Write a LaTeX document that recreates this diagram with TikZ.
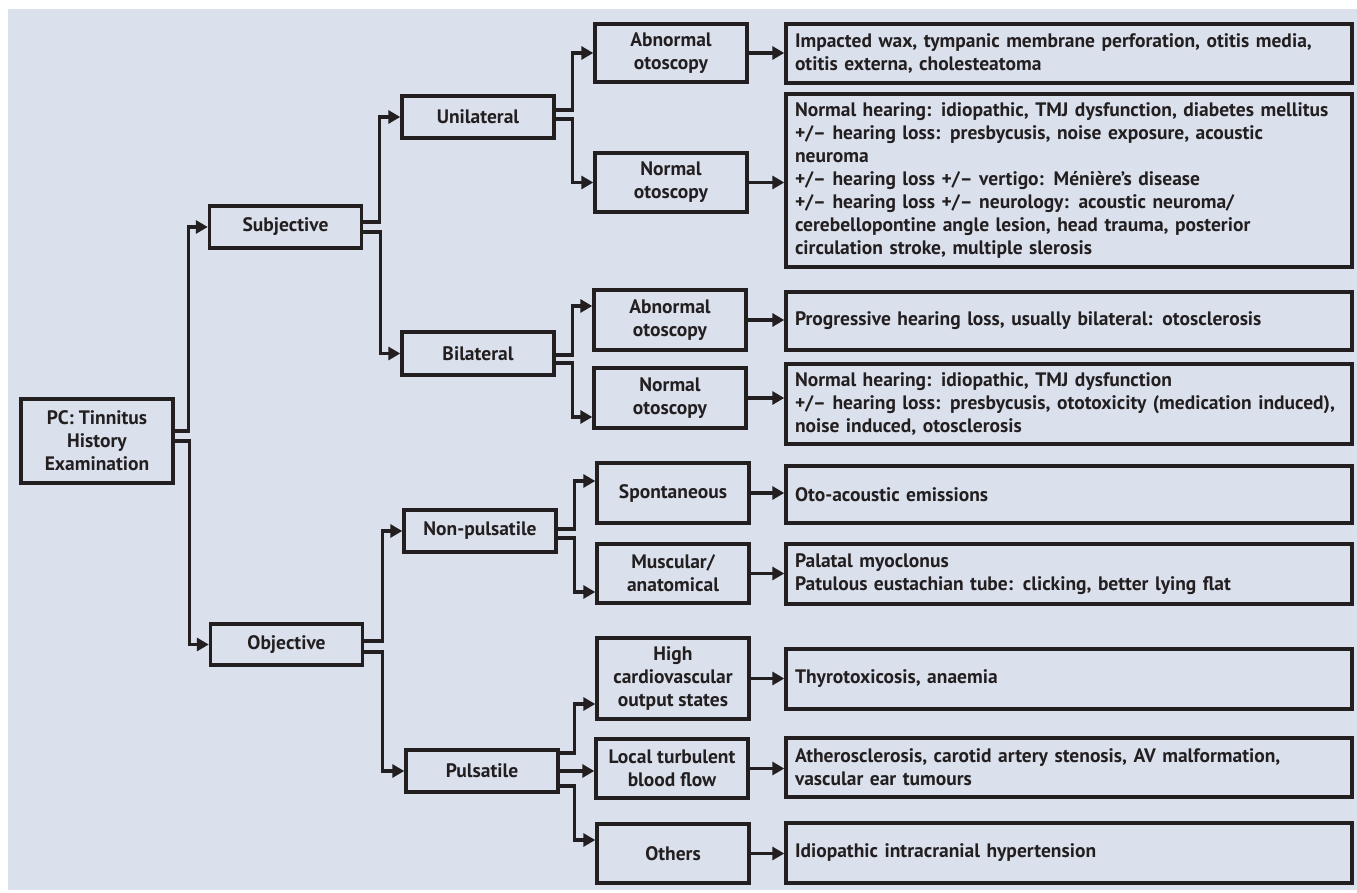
\documentclass[tikz,border=0pt]{standalone}
\usepackage{fontspec}
\setmainfont{PT Sans}
\usepackage{tikz}
\usetikzlibrary{arrows.meta, positioning}
\definecolor{bgblue}{RGB}{218,224,236}
\definecolor{inkdark}{RGB}{35,31,32}

\begin{document}
\begin{tikzpicture}[
        x=1pt, y=-1pt,
        >={Triangle[length=12pt, width=13pt]},
        box/.style={draw=inkdark, line width=3.4pt, text=inkdark, inner sep=0pt,
            font=\fontsize{19.5}{23}\selectfont\bfseries},
        catbox/.style={box, align=center, minimum width=152pt},
        resbox/.style={box, align=left, text width=548pt, inner xsep=9pt},
        flow/.style={->, draw=inkdark, line width=3.4pt}
    ]
        \useasboundingbox (0,0) rectangle (1357,893);
        \fill[bgblue] (8,9) rectangle (1357,890);

        \node[catbox, minimum height=84pt] (root) at (97,441) {PC: Tinnitus\\History\\Examination};

        \node[catbox, minimum height=42pt] (subjective) at (285.5,227) {Subjective};
        \node[catbox, minimum height=41pt] (objective) at (286.5,644.5) {Objective};

        \node[catbox, minimum height=42pt] (unilateral) at (478,117) {Unilateral};
        \node[catbox, minimum height=43pt] (bilateral) at (478,353.5) {Bilateral};
        \node[catbox, minimum height=42pt] (nonpulsatile) at (480,531) {Non-pulsatile};
        \node[catbox, minimum height=42pt] (pulsatile) at (482,771) {Pulsatile};

        \node[catbox, minimum height=58pt] (uniabnormal) at (671,53) {Abnormal\\otoscopy};
        \node[catbox, minimum height=59pt] (uninormal) at (671,182.5) {Normal\\otoscopy};
        \node[catbox, minimum height=60pt] (biabnormal) at (670,320) {Abnormal\\otoscopy};
        \node[catbox, minimum height=60pt] (binormal) at (670,398) {Normal\\otoscopy};
        \node[catbox, minimum height=60pt] (spontaneous) at (673,493) {Spontaneous};
        \node[catbox, minimum height=59pt] (muscular) at (673,573.5) {Muscular/\\anatomical};
        \node[catbox, minimum height=81pt] (cardiac) at (673,678.5) {High\\cardiovascular\\output states};
        \node[catbox, minimum height=59pt] (turbulent) at (672,768.5) {Local turbulent\\blood flow};
        \node[catbox, minimum height=59pt] (others) at (673,853.5) {Others};

        \node[resbox, minimum height=59pt] (waxcauses) at (1069,53.5) {
            Impacted wax, tympanic membrane perforation, otitis media,\\
            otitis externa, cholesteatoma};
        \node[resbox, minimum height=173pt] (unicauses) at (1069,180.5) {
            Normal hearing: idiopathic, TMJ dysfunction, diabetes mellitus\\
            +/– hearing loss: presbycusis, noise exposure, acoustic\\
            neuroma\\
            +/– hearing loss +/– vertigo: Ménière's disease\\
            +/– hearing loss +/– neurology: acoustic neuroma/\\
            cerebellopontine angle lesion, head trauma, posterior\\
            circulation stroke, multiple slerosis};
        \node[resbox, minimum height=58pt] (sclerosis) at (1069,321) {
            Progressive hearing loss, usually bilateral: otosclerosis};
        \node[resbox, minimum height=80pt] (bicauses) at (1069,404) {
            Normal hearing: idiopathic, TMJ dysfunction\\
            +/– hearing loss: presbycusis, ototoxicity (medication induced),\\
            noise induced, otosclerosis};
        \node[resbox, minimum height=57pt] (emissions) at (1069,494.5) {
            Oto-acoustic emissions};
        \node[resbox, minimum height=60pt] (myoclonus) at (1069,574) {
            Palatal myoclonus\\
            Patulous eustachian tube: clicking, better lying flat};
        \node[resbox, minimum height=60pt] (thyroid) at (1069,679) {
            Thyrotoxicosis, anaemia};
        \node[resbox, minimum height=59pt] (vascular) at (1069,767.5) {
            Atherosclerosis, carotid artery stenosis, AV malformation,\\
            vascular ear tumours};
        \node[resbox, minimum height=60pt] (hypertension) at (1069,853) {
            Idiopathic intracranial hypertension};

        \draw[flow] ([yshift=10pt]root.east) -- ++(14,0) |- (subjective.west);
        \draw[flow] (root.east) -- ++(15,0) |- (objective.west);

        \draw[flow] ([yshift=5pt]subjective.east) -- ++(16,0) |- (unilateral.west);
        \draw[flow] ([yshift=-5pt]subjective.east) -- ++(17,0) |- (bilateral.west);
        \draw[flow] ([yshift=3.5pt]objective.east) -- ++(18,0) |- (nonpulsatile.west);
        \draw[flow] ([yshift=-7.5pt]objective.east) -- ++(18,0) |- (pulsatile.west);

        \draw[flow] ([yshift=7pt]unilateral.east) -- ++(17,0) |- (uniabnormal.west);
        \draw[flow] ([yshift=-2pt]unilateral.east) -- ++(17,0) |- (uninormal.west);
        \draw[flow] ([yshift=-1.5pt]bilateral.east) -- ++(17,0) |- ([yshift=14pt]biabnormal.west);
        \draw[flow] ([yshift=-9.5pt]bilateral.east) -- ++(17,0) |- ([yshift=-19pt]binormal.west);
        \draw[flow] ([yshift=2pt]nonpulsatile.east) -- ++(17,0) |- ([yshift=12pt]spontaneous.west);
        \draw[flow] ([yshift=-7pt]nonpulsatile.east) -- ++(17,0) |- ([yshift=-18.5pt]muscular.west);
        \draw[flow] ([yshift=18pt]pulsatile.east) -- ++(15,0) |- ([yshift=-25.5pt]cardiac.west);
        \draw[flow] (pulsatile.east) -- (pulsatile.east -| turbulent.west);
        \draw[flow] ([yshift=-15pt]pulsatile.east) -- ++(15,0) |- ([yshift=13.5pt]others.west);

        \draw[flow] (uniabnormal) -- (uniabnormal -| waxcauses.west);
        \draw[flow] (uninormal) -- (uninormal -| unicauses.west);
        \draw[flow] (biabnormal) -- (biabnormal -| sclerosis.west);
        \draw[flow] (binormal) -- (binormal -| bicauses.west);
        \draw[flow] (spontaneous) -- (spontaneous -| emissions.west);
        \draw[flow] (muscular) -- (muscular -| myoclonus.west);
        \draw[flow] (cardiac) -- (cardiac -| thyroid.west);
        \draw[flow] (turbulent) -- (turbulent -| vascular.west);
        \draw[flow] (others) -- (others -| hypertension.west);
    \end{tikzpicture}
\end{document}
